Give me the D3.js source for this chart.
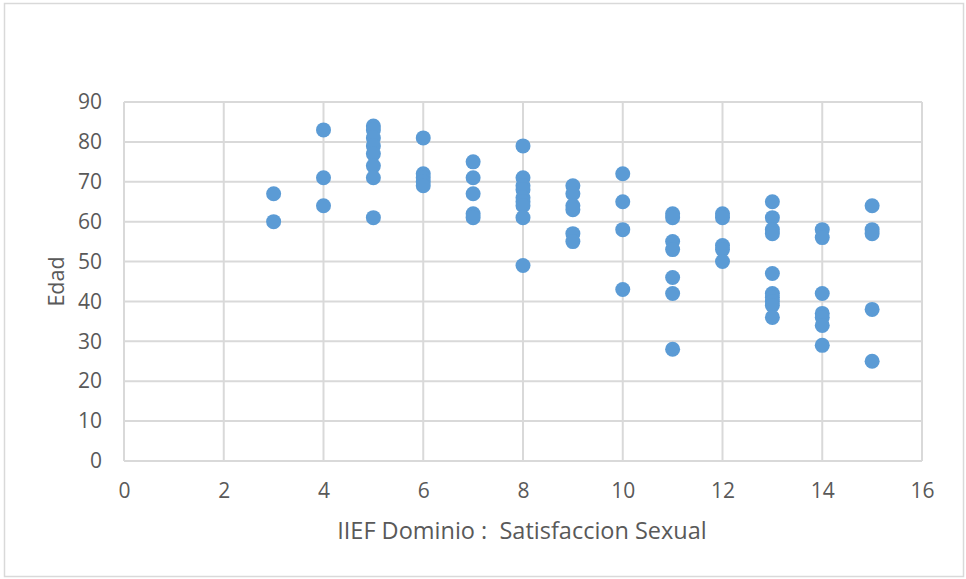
<!DOCTYPE html>
<html>
<head>
<meta charset="utf-8">
<script src="https://cdn.jsdelivr.net/npm/d3@7"></script>
<style>
  body { margin: 0; background: #fff; }
  text { font-family: "Open Sans", "Noto Sans", sans-serif; fill: #595959; }
</style>
</head>
<body>
<div id="chart"></div>
<script>
// Satisfaccion sexual score (x) and age (y), one entry per patient
var satisfaccion = [
  3, 3,
  4, 4, 4,
  5, 5, 5, 5, 5, 5, 5, 5,
  6, 6, 6, 6, 6,
  7, 7, 7, 7, 7,
  8, 8, 8, 8, 8, 8, 8, 8, 8,
  9, 9, 9, 9, 9, 9,
  10, 10, 10, 10,
  11, 11, 11, 11, 11, 11, 11,
  12, 12, 12, 12, 12,
  13, 13, 13, 13, 13, 13, 13, 13, 13, 13,
  14, 14, 14, 14, 14, 14, 14,
  15, 15, 15, 15, 15
];
var edad = [
  67, 60,
  83, 71, 64,
  84, 83, 81, 79, 77, 74, 71, 61,
  81, 72, 71, 70, 69,
  75, 71, 67, 62, 61,
  79, 71, 69, 68, 66, 65, 64, 61, 49,
  69, 67, 64, 63, 57, 55,
  72, 65, 58, 43,
  62, 61, 55, 53, 46, 42, 28,
  62, 61, 54, 53, 50,
  65, 61, 58, 57, 47, 42, 41, 40, 39, 36,
  58, 56, 42, 37, 36, 34, 29,
  64, 58, 57, 38, 25
];
var xTicks = [0, 2, 4, 6, 8, 10, 12, 14, 16];
var yTicks = [0, 10, 20, 30, 40, 50, 60, 70, 80, 90];

var svgWidth = 966, svgHeight = 579;
var plot = { left: 124, top: 102, right: 922, bottom: 461 };

var svg = d3.select("#chart").append("svg")
    .attr("width", svgWidth)
    .attr("height", svgHeight);

// outer chart frame
svg.append("rect")
    .attr("x", 4.5).attr("y", 3.5)
    .attr("width", 959).attr("height", 573)
    .attr("fill", "#fff")
    .attr("stroke", "#d9d9d9")
    .attr("stroke-width", 1.5);

var x = d3.scaleLinear().domain([0, 16]).range([plot.left, plot.right]);
var y = d3.scaleLinear().domain([0, 90]).range([plot.bottom, plot.top]);

// gridlines
svg.append("g")
    .selectAll("line.vg")
    .data(xTicks)
    .enter().append("line")
    .attr("x1", d => x(d)).attr("x2", d => x(d))
    .attr("y1", plot.top).attr("y2", plot.bottom)
    .attr("stroke", "#d9d9d9").attr("stroke-width", 2);

svg.append("g")
    .selectAll("line.hg")
    .data(yTicks)
    .enter().append("line")
    .attr("x1", plot.left).attr("x2", plot.right)
    .attr("y1", d => y(d)).attr("y2", d => y(d))
    .attr("stroke", "#d9d9d9").attr("stroke-width", 2);

// tick labels via axes
var bottomAxis = d3.axisBottom(x).tickValues(xTicks).tickSize(0).tickPadding(22);
var leftAxis = d3.axisLeft(y).tickValues(yTicks).tickSize(0).tickPadding(22);

var gx = svg.append("g")
    .attr("transform", `translate(0, ${plot.bottom})`)
    .call(bottomAxis);
var gy = svg.append("g")
    .attr("transform", `translate(${plot.left}, 0)`)
    .call(leftAxis);

[gx, gy].forEach(function(g) {
  g.attr("font-size", null).attr("font-family", null);
  g.select(".domain").remove();
  g.selectAll("text")
    .style("font-size", "21px")
    .attr("fill", "#595959");
});

// points
svg.append("g")
    .selectAll("circle")
    .data(satisfaccion.map((s, i) => ({ s: s, e: edad[i] })))
    .enter().append("circle")
    .attr("cx", d => x(d.s))
    .attr("cy", d => y(d.e))
    .attr("r", 7.5)
    .attr("fill", "#5b9bd5");

// axis titles
svg.append("text")
    .attr("x", 522)
    .attr("y", 539)
    .attr("text-anchor", "middle")
    .style("font-size", "23.5px")
    .style("white-space", "pre")
    .text("IIEF Dominio :  Satisfaccion Sexual");

svg.append("text")
    .attr("transform", `translate(64, ${(plot.top + plot.bottom) / 2}) rotate(-90)`)
    .attr("text-anchor", "middle")
    .style("font-size", "21.5px")
    .text("Edad");
</script>
</body>
</html>
